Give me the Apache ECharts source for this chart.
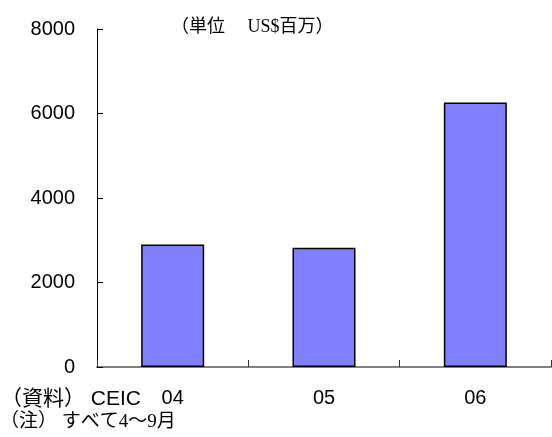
<!DOCTYPE html>
<html>
<head>
<meta charset="utf-8">
<script src="https://cdn.jsdelivr.net/npm/echarts@6/dist/echarts.min.js"></script>
<style>
  html, body { margin: 0; padding: 0; background: #fff; }
  #chart { width: 552px; height: 437px; }
</style>
</head>
<body>
<div id="chart"></div>
<script>
// Fiscal years (April–September totals)
const years = ['04', '05', '06'];
// Amounts, US$ millions
const amounts = [2900, 2820, 6260];
// Value axis ticks
const yTicks = [0, 2000, 4000, 6000, 8000];

const unitText = '（単位　 US$百万）';
const sourceText = '（資料） CEIC';
const noteText = '（注） すべて4～9月';

const sansFont = '"Liberation Sans", "Noto Sans CJK JP", sans-serif';
const serifFont = '"Liberation Serif", "Noto Sans CJK JP", serif';

const chart = echarts.init(document.getElementById('chart'), null, { renderer: 'canvas' });

chart.setOption({
  animation: false,
  backgroundColor: '#ffffff',
  grid: { left: 97, right: 1, top: 29, bottom: 70, containLabel: false },
  xAxis: {
    type: 'category',
    data: years,
    boundaryGap: true,
    axisLine: { show: true, lineStyle: { color: '#808080', width: 2 } },
    axisTick: { show: true, inside: true, length: 7, lineStyle: { color: '#333', width: 1 } },
    axisLabel: { color: '#000', fontSize: 20, fontFamily: sansFont, margin: 21 },
    splitLine: { show: false }
  },
  yAxis: {
    type: 'value',
    min: yTicks[0],
    max: yTicks[yTicks.length - 1],
    interval: yTicks[1] - yTicks[0],
    axisLine: { show: true, lineStyle: { color: '#000', width: 1 } },
    axisTick: { show: true, inside: true, length: 6, lineStyle: { color: '#000', width: 1 } },
    axisLabel: {
      color: '#000', fontSize: 20, fontFamily: sansFont, margin: 22,
      formatter: (v) => String(v)
    },
    splitLine: { show: false }
  },
  series: [{
    type: 'bar',
    data: amounts,
    barWidth: 63,
    itemStyle: { color: '#8080ff', borderColor: '#000', borderWidth: 1.5 }
  }],
  graphic: [
    {
      type: 'text', left: 171, top: 18,
      style: { text: unitText, font: '18px ' + serifFont, fill: '#000' }
    },
    {
      type: 'text', left: 1, top: 389,
      style: { text: sourceText, font: '21px ' + sansFont, fill: '#000' }
    },
    {
      type: 'text', left: 0, top: 413,
      style: { text: noteText, font: '19px ' + serifFont, fill: '#000' }
    }
  ]
});
</script>
</body>
</html>
